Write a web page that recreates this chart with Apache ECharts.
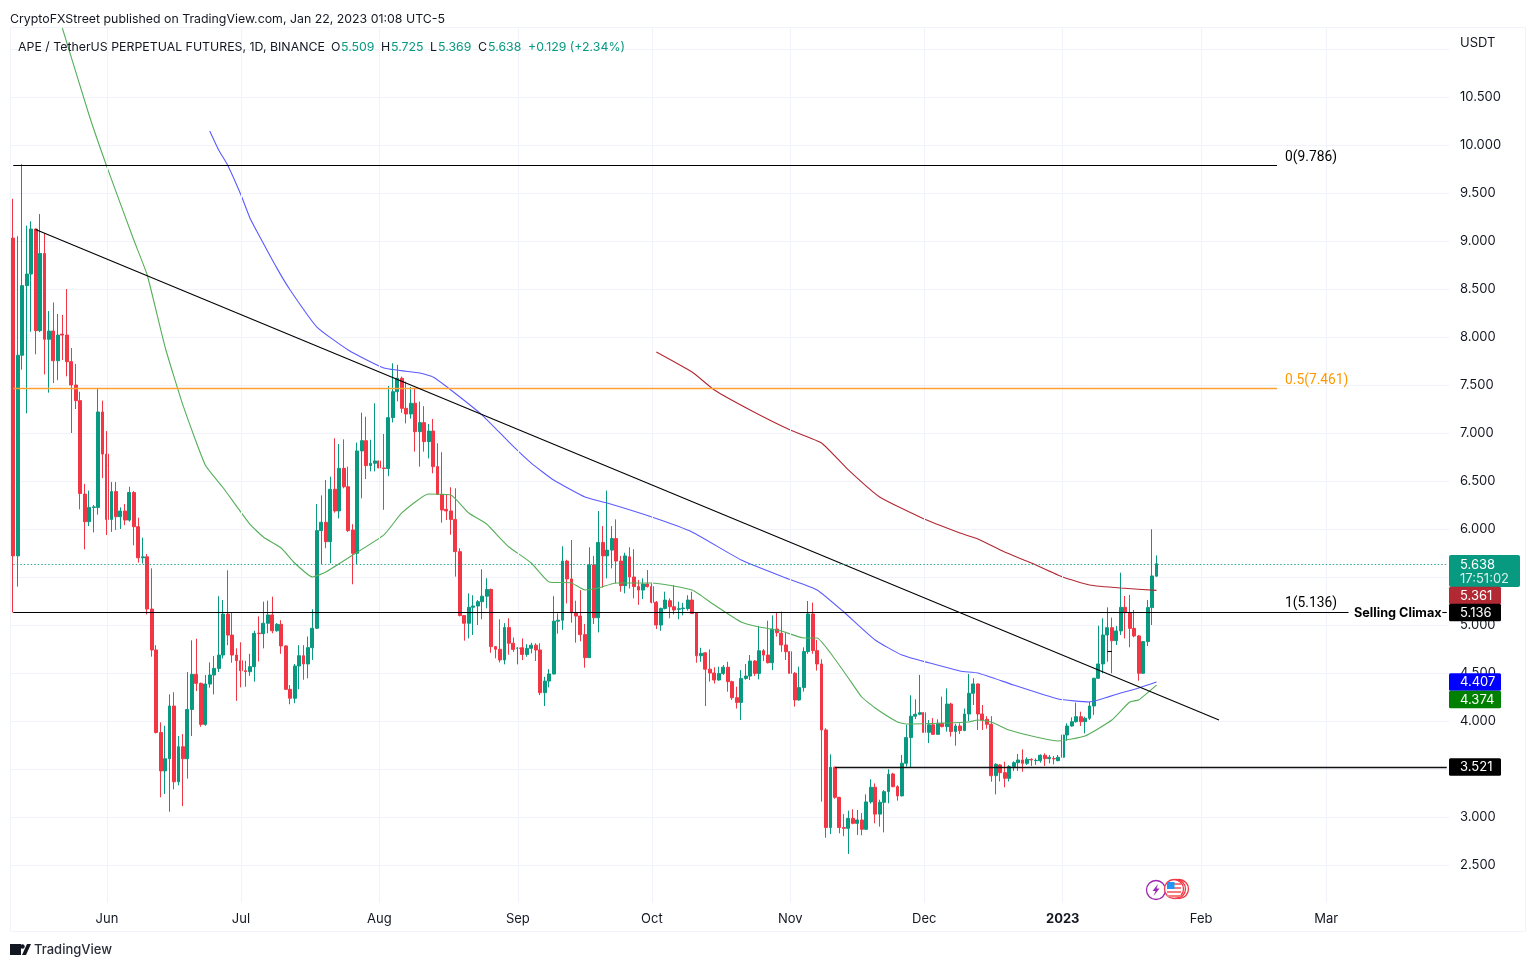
<!DOCTYPE html>
<html><head><meta charset="utf-8">
<style>html,body{margin:0;padding:0;background:#fff}#c{width:1536px;height:968px}</style>
<script src="https://cdn.jsdelivr.net/npm/echarts@6/dist/echarts.min.js"></script>
</head><body><div id="c"></div>
<script>
// open, close, low, high — one row per day from 2022-05-11
const ohlc = [
[9.03,5.72,5.13,9.44],[5.72,7.81,5.40,9.05],[7.81,8.535,7.66,9.80],[8.535,8.656,7.205,9.16],[8.656,9.125,8.055,9.205],
[9.125,8.066,7.82,9.13],[8.066,8.87,8.05,9.28],[8.87,7.976,7.61,9.08],[7.976,8.062,7.42,8.27],[8.062,7.753,7.52,8.36],
[7.753,8.02,7.55,8.24],[8.03,8.02,7.76,8.23],[8.02,7.743,7.59,8.50],[7.743,7.50,7.00,7.885],[7.50,7.337,7.25,7.72],
[7.337,6.37,6.205,7.43],[6.364,6.076,5.788,6.47],[6.076,6.225,6.03,6.40],[6.225,6.23,5.965,6.25],[6.225,7.219,6.15,7.47],
[7.219,6.78,6.53,7.337],[6.78,6.10,5.937,7.02],[6.10,6.39,5.97,6.49],[6.39,6.128,5.99,6.49],[6.128,6.187,6.0,6.225],
[6.187,6.093,6.04,6.26],[6.093,6.38,6.076,6.44],[6.38,6.024,5.83,6.395],[6.024,5.70,5.65,6.118],[5.70,5.71,5.64,5.91],
[5.71,5.166,5.11,5.74],[5.166,4.74,4.67,5.59],[4.74,3.88,3.87,4.79],[3.88,3.48,3.205,3.986],[3.48,3.607,3.24,3.95],
[3.607,4.156,3.055,4.277],[4.156,3.367,3.288,4.30],[3.367,3.732,3.33,3.843],[3.732,3.607,3.114,3.864],[3.607,4.12,3.40,4.51],
[4.12,4.486,3.843,4.84],[4.486,4.392,4.312,4.857],[4.392,3.965,3.94,4.40],[3.965,4.385,3.95,4.479],[4.385,4.479,4.347,4.61],
[4.479,4.548,4.277,4.677],[4.548,4.687,4.51,5.30],[4.687,5.114,4.652,5.26],[5.114,4.895,4.79,5.57],[4.895,4.687,4.607,5.13],
[4.687,4.628,4.21,4.757],[4.628,4.524,4.35,4.82],[4.524,4.514,4.357,4.628],[4.514,4.566,4.47,4.70],[4.566,4.913,4.41,4.94],
[4.915,4.91,4.62,5.09],[4.91,5.018,4.757,5.243],[5.018,5.105,4.914,5.254],[5.105,4.94,4.914,5.295],[4.94,5.007,4.93,5.02],
[5.007,4.782,4.70,5.05],[4.782,4.33,4.325,4.79],[4.33,4.237,4.174,4.375],[4.237,4.573,4.185,4.594],[4.573,4.68,4.33,4.79],
[4.68,4.594,4.43,4.79],[4.594,4.764,4.445,4.88],[4.764,4.966,4.636,5.164],[4.966,5.983,4.96,6.26],[5.983,6.07,5.636,6.35],
[6.07,5.868,5.80,6.51],[5.868,6.414,5.643,6.545],[6.414,6.188,6.17,6.945],[6.188,6.632,6.11,6.886],[6.632,6.44,6.424,6.934],
[6.44,5.983,5.97,6.65],[5.99,5.747,5.424,6.05],[5.747,6.813,5.636,6.9],[6.813,6.92,6.32,7.212],[6.92,6.66,6.52,7.17],
[6.66,6.685,6.60,6.93],[6.685,6.709,6.60,7.31],[6.709,6.636,6.46,7.275],[6.636,6.63,6.20,6.99],[6.63,7.16,6.55,7.49],
[7.16,7.43,7.11,7.726],[7.43,7.57,7.33,7.71],[7.57,7.257,7.21,7.587],[7.257,7.198,7.10,7.535],[7.198,7.31,7.15,7.48],
[7.31,7.014,6.806,7.466],[7.014,7.108,6.65,7.327],[7.108,6.91,6.806,7.28],[6.91,7.02,6.736,7.094],[7.02,6.65,6.58,7.146],
[6.65,6.36,6.355,6.893],[6.36,6.198,6.066,6.80],[6.205,6.188,6.094,6.355],[6.188,6.10,5.94,6.435],[6.10,5.764,5.504,6.424],
[5.764,5.098,5.09,5.80],[5.098,5.018,4.837,5.10],[5.018,5.185,4.86,5.33],[5.185,5.198,4.896,5.31],[5.198,5.243,5.0,5.26],
[5.243,5.30,5.06,5.58],[5.30,5.37,5.174,5.487],[5.37,4.775,4.71,5.38],[4.775,4.747,4.653,4.78],[4.747,4.636,4.61,5.06],
[4.636,4.973,4.59,5.02],[4.973,4.81,4.69,5.07],[4.81,4.746,4.72,4.87],[4.757,4.76,4.59,4.77],[4.763,4.694,4.635,4.86],
[4.694,4.757,4.67,4.80],[4.757,4.79,4.705,4.815],[4.79,4.74,4.625,4.81],[4.74,4.295,4.27,4.81],[4.295,4.416,4.156,4.46],
[4.416,4.49,4.35,4.54],[4.49,5.04,4.485,5.30],[5.04,5.05,4.91,5.12],[5.05,5.666,4.95,5.82],[5.666,5.48,5.225,5.68],
[5.48,5.128,5.024,5.885],[5.128,5.093,4.816,5.253],[5.093,4.90,4.83,5.364],[4.90,4.66,4.555,5.01],[4.66,5.625,4.655,5.81],
[5.625,5.076,5.01,5.72],[5.076,5.86,4.923,6.187],[5.86,5.72,5.39,6.03],[5.72,5.78,5.486,6.40],[5.78,5.90,5.59,6.03],
[5.90,5.666,5.434,6.10],[5.666,5.41,5.347,5.72],[5.41,5.72,5.33,5.753],[5.71,5.50,5.38,5.81],[5.50,5.40,5.277,5.79],
[5.40,5.364,5.21,5.47],[5.364,5.427,5.27,5.486],[5.427,5.40,5.39,5.573],[5.40,5.236,5.226,5.434],[5.236,5.0,4.958,5.25],
[5.0,5.173,4.94,5.18],[5.173,5.26,5.163,5.347],[5.253,5.19,5.07,5.277],[5.19,5.156,5.11,5.416],[5.163,5.17,5.06,5.243],
[5.17,5.177,5.10,5.23],[5.17,5.26,5.15,5.31],[5.26,5.12,5.115,5.347],[5.128,4.68,4.607,5.135],[4.68,4.705,4.617,4.763],
[4.71,4.54,4.156,4.715],[4.54,4.50,4.41,4.746],[4.50,4.427,4.39,4.56],[4.427,4.496,4.42,4.566],[4.496,4.56,4.48,4.583],
[4.56,4.41,4.305,4.617],[4.41,4.243,4.22,4.42],[4.243,4.194,4.13,4.357],[4.194,4.444,4.01,4.53],[4.444,4.468,4.43,4.593],
[4.468,4.625,4.427,4.687],[4.625,4.496,4.47,4.635],[4.496,4.732,4.434,4.99],[4.732,4.687,4.625,4.75],[4.687,4.607,4.60,5.045],
[4.607,4.958,4.53,5.10],[4.958,4.92,4.88,5.128],[4.914,4.792,4.72,5.14],[4.792,4.722,4.636,4.93],[4.722,4.497,4.445,4.77],
[4.497,4.219,4.15,4.51],[4.219,4.348,4.21,4.566],[4.348,4.723,4.306,4.768],[4.723,5.115,4.70,5.25],[5.115,4.733,4.70,5.233],
[4.733,4.594,4.525,4.844],[4.594,3.907,3.16,4.643],[3.907,2.89,2.785,3.924],[2.89,3.518,2.823,3.653],[3.518,3.205,3.19,3.525],
[3.205,2.89,2.83,3.21],[2.89,2.882,2.80,3.03],[2.882,2.986,2.615,3.066],[2.986,2.934,2.925,3.08],[2.934,2.969,2.813,3.073],
[2.969,2.872,2.81,3.04],[2.872,3.157,2.865,3.236],[3.157,3.31,3.14,3.393],[3.31,3.03,2.935,3.35],[3.03,3.153,2.90,3.18],
[3.153,3.264,2.84,3.28],[3.264,3.445,3.143,3.497],[3.448,3.316,3.31,3.46],[3.316,3.22,3.17,3.33],[3.22,3.56,3.215,3.646],
[3.56,3.827,3.525,3.96],[3.827,4.05,3.515,4.268],[4.05,4.07,4.02,4.226],[4.07,4.087,4.06,4.48],[4.087,3.882,3.865,4.09],
[3.882,3.96,3.77,4.01],[3.96,3.861,3.855,4.03],[3.861,3.976,3.855,4.018],[3.976,3.941,3.935,4.254],[3.941,4.177,3.89,4.34],
[4.177,3.89,3.837,4.19],[3.89,3.948,3.743,3.97],[3.948,3.90,3.865,3.976],[3.90,4.073,3.895,4.13],[4.073,4.289,4.0,4.49],
[4.289,4.386,4.167,4.445],[4.386,4.073,3.907,4.39],[4.073,4.01,3.907,4.167],[4.018,3.966,3.92,4.05],[3.966,3.43,3.368,4.05],
[3.431,3.549,3.236,3.56],[3.542,3.462,3.37,3.55],[3.462,3.403,3.31,3.577],[3.403,3.525,3.37,3.54],[3.525,3.566,3.48,3.58],
[3.566,3.594,3.48,3.657],[3.594,3.559,3.472,3.705],[3.559,3.601,3.542,3.622],[3.601,3.594,3.532,3.611],[3.587,3.59,3.542,3.611],
[3.587,3.643,3.566,3.653],[3.643,3.608,3.532,3.663],[3.608,3.622,3.559,3.646],[3.61,3.605,3.549,3.636],[3.587,3.622,3.58,3.646],
[3.622,3.854,3.611,4.07],[3.854,3.948,3.795,3.976],[3.948,3.993,3.941,4.038],[3.993,4.045,3.983,4.191],[4.045,3.993,3.948,4.097],
[3.993,4.028,3.872,4.045],[4.028,4.156,4.011,4.202],[4.156,4.445,4.063,4.45],[4.445,4.594,4.44,4.993],[4.594,4.896,4.497,5.07],
[4.896,4.972,4.618,5.184],[4.972,4.837,4.497,5.077],[4.837,4.938,4.792,4.99],[4.938,5.184,4.896,5.545],[5.184,5.129,4.861,5.302],
[5.129,4.965,4.768,5.313],[4.965,4.886,4.872,5.156],[4.886,4.497,4.42,4.896],[4.497,4.827,4.49,4.83],[4.827,5.181,4.781,5.261],
[5.181,5.511,5.0,5.997],[5.509,5.638,5.504,5.725]
];
// moving averages, read as [day index, price]
const maGreen = [[11,11.218],[17,10.31],[21,9.77],[27,9.01],[30,8.646],[34,7.896],[38,7.29],[43,6.667],[47,6.43],[53,6.05],[56,5.917],[60,5.802],[63,5.646],[67,5.50],[70,5.552],[75,5.698],[83,5.938],[87,6.167],[93,6.365],[98,6.354],[102,6.167],[106,6.052],[109,5.906],[111,5.813],[116,5.646],[120,5.448],[125,5.438],[128,5.365],[131,5.385],[135,5.438],[143,5.438],[152,5.365],[157,5.208],[163,5.031],[167,4.979],[172,4.938],[177,4.865],[180,4.865],[183,4.708],[187,4.448],[190,4.25],[193,4.135],[198,3.99],[200,3.969],[209,3.979],[214,3.99],[216,4.01],[219,3.99],[223,3.906],[229,3.833],[234,3.792],[240,3.844],[246,4.01],[250,4.198],[252,4.219],[256,4.374]];
const maBlue = [[44,10.146],[46,9.948],[48,9.792],[51,9.479],[53,9.24],[55,9.062],[59,8.72],[62,8.49],[68,8.104],[75,7.865],[83,7.677],[91,7.625],[94,7.583],[98,7.448],[105,7.187],[111,6.906],[116,6.687],[121,6.51],[128,6.333],[133,6.271],[143,6.125],[152,5.969],[163,5.677],[173,5.49],[180,5.365],[186,5.135],[193,4.844],[199,4.688],[212,4.521],[216,4.5],[224,4.375],[234,4.229],[241,4.198],[248,4.292],[252,4.344],[256,4.407]];
const maRed = [[144,7.844],[152,7.635],[157,7.448],[165,7.24],[174,7.031],[181,6.896],[187,6.615],[194,6.333],[203,6.125],[212,5.958],[216,5.896],[222,5.76],[228,5.646],[235,5.50],[241,5.417],[248,5.385],[256,5.361]];
const monthTicks = {'2022-06-01':'Jun','2022-07-01':'Jul','2022-08-01':'Aug','2022-09-01':'Sep','2022-10-01':'Oct','2022-11-01':'Nov','2022-12-01':'Dec','2023-01-01':'{b|2023}','2023-02-01':'Feb','2023-03-01':'Mar'};
const fibLevels = [9.786, 7.461, 5.136];
const fibLabels = ['0(9.786)', '0.5(7.461)', '1(5.136)'];
const supportLevel = 3.521;
const lastPrice = 5.638;
const trendLine = [[5, 9.12], [270, 4.01]];
const priceTagText = ['5.361', '5.136', '4.407', '4.374', '3.521'];
const priceTagColor = ['#b22833', '#000000', '#0000ff', '#008000', '#000000'];
const priceTagCentre = [595.5, 612.5, 682, 699.5, 767];
const dayCount = 322;

const FONT = 'Inter, "Liberation Sans", sans-serif';
const INK = '#131722', UP = '#089981', DOWN = '#f23645';
const cats = [];
for (let i = 0; i < dayCount; i++) {
  cats.push(new Date(Date.UTC(2022, 4, 11 + i)).toISOString().slice(0, 10));
}
const seg = (a, b, va, vb, style) => [{coord: [cats[a], va], lineStyle: style}, {coord: [cats[b], vb]}];
const black = {color: '#000', width: 1.1, type: 'solid', opacity: 1};
const lines = [
  seg(0, 283, fibLevels[0], fibLevels[0], black),
  seg(0, 283, fibLevels[1], fibLevels[1], {color: '#ffa030', width: 1.3, type: 'solid', opacity: 1}),
  seg(0, 299, fibLevels[2], fibLevels[2], black),
  seg(320, 321, fibLevels[2], fibLevels[2], black),
  seg(184, 321, supportLevel, supportLevel, {color: '#111', width: 1.4, type: 'solid', opacity: 1}),
  seg(trendLine[0][0], trendLine[1][0], trendLine[0][1], trendLine[1][1], black),
  seg(0, 321, lastPrice, lastPrice, {color: UP, width: 1, type: [1.5, 2], opacity: 0.85}),
  seg(245, 246, 4.73, 4.73, black)
];
Object.keys(monthTicks).forEach(d => {
  const i = cats.indexOf(d);
  lines.unshift(seg(i, i, 2.104, 11.22, {color: '#f0f3fa', width: 1, type: 'solid', opacity: 1}));
});
const ma = (data, color) => ({
  type: 'line', data: data.map(p => [cats[p[0]], p[1]]), showSymbol: false, silent: true, smooth: 0.15,
  lineStyle: {color, width: 1.1}, z: 3, animation: false
});

const chart = echarts.init(document.getElementById('c'), null, {width: 1536, height: 968, renderer: 'canvas'});
chart.setOption({
  animation: false,
  backgroundColor: '#ffffff',
  grid: {left: 11, right: 87, top: 1, height: 912},
  tooltip: {show: false},
  xAxis: {
    type: 'category', data: cats, boundaryGap: true,
    axisLine: {show: false}, axisTick: {show: false}, splitLine: {show: false},
    axisLabel: {
      interval: (i, v) => v in monthTicks, formatter: v => monthTicks[v] || '',
      color: INK, fontFamily: FONT, fontSize: 13, margin: 6, verticalAlign: 'middle',
      rich: {b: {fontWeight: 'bold', color: INK, fontFamily: FONT, fontSize: 13}}
    }
  },
  yAxis: {
    type: 'value', position: 'right', min: 2, max: 11.5, interval: 0.5, scale: true,
    axisLine: {show: false}, axisTick: {show: false},
    splitLine: {show: true, showMinLine: false, showMaxLine: false, lineStyle: {color: '#f0f3fa', width: 1}},
    axisLabel: {
      color: INK, fontFamily: FONT, fontSize: 13, margin: 11, align: 'left', padding: [3, 0, 0, 0],
      formatter: v => (v < 2.4 || v > 10.6) ? '' : v.toFixed(3)
    }
  },
  series: [
    {
      type: 'candlestick', data: ohlc, barWidth: 3.4, silent: true, z: 2,
      itemStyle: {color: UP, color0: DOWN, borderColor: UP, borderColor0: DOWN, borderWidth: 1},
      markLine: {silent: true, symbol: 'none', label: {show: false}, animation: false, precision: 4, data: lines}
    },
    ma(maGreen, '#55ae59'), ma(maBlue, '#5b5bff'), ma(maRed, '#b22833')
  ]
});

const py = v => chart.convertToPixel({yAxisIndex: 0}, v);
const px = i => chart.convertToPixel({xAxisIndex: 0}, cats[i]);
const txt = (x, y, text, opt) => ({
  type: 'text', x, y, z: 60,
  style: Object.assign({text, fill: INK, font: '13px ' + FONT, verticalAlign: 'middle'}, opt || {})
});
const hdr = '12.35px ' + FONT;
const fibFont = '13.8px Roboto, ' + FONT;
const g = [
  {type: 'rect', z: 1, shape: {x: 10.5, y: 27.5, width: 1515, height: 904}, style: {fill: 'none', stroke: '#f0f3fa', lineWidth: 1}},
  txt(10, 19, 'CryptoFXStreet published on TradingView.com, Jan 22, 2023 01:08 UTC-5', {font: hdr}),
  txt(18, 47, 'APE / TetherUS PERPETUAL FUTURES, 1D, BINANCE', {font: hdr}),
  txt(331, 47, 'O', {font: hdr}), txt(341, 47, '5.509', {font: hdr, fill: UP}),
  txt(381, 47, 'H', {font: hdr}), txt(391, 47, '5.725', {font: hdr, fill: UP}),
  txt(430, 47, 'L', {font: hdr}), txt(438, 47, '5.369', {font: hdr, fill: UP}),
  txt(478, 47, 'C', {font: hdr}), txt(488, 47, '5.638', {font: hdr, fill: UP}),
  txt(528, 47, '+0.129 (+2.34%)', {font: hdr, fill: UP}),
  txt(1460, 43, 'USDT'),
  txt(1354, py(fibLevels[2]) + 1, 'Selling Climax', {font: 'bold 12.7px ' + FONT, fill: '#000'}),
  txt(px(283) + 8, py(fibLevels[0]) - 8, fibLabels[0], {font: fibFont, fill: '#000'}),
  txt(px(283) + 8, py(fibLevels[1]) - 8, fibLabels[1], {font: fibFont, fill: '#ff9800'}),
  txt(px(283) + 8, py(fibLevels[2]) - 8, fibLabels[2], {font: fibFont, fill: '#000'}),
  // last price tag with countdown
  {type: 'rect', z: 55, shape: {x: 1449, y: 555, width: 71, height: 32, r: 2}, style: {fill: UP}},
  txt(1460, 565, '5.638', {fill: '#fff'}),
  txt(1460, 579, '17:51:02', {fill: '#d7f0ea'})
];
priceTagText.forEach((t, i) => {
  const y = priceTagCentre[i];
  g.push({type: 'rect', z: 55, shape: {x: 1449, y: y - 8.75, width: 52, height: 17.5, r: 1.5}, style: {fill: priceTagColor[i]}});
  g.push(txt(1460, y + 0.5, t, {fill: '#fff'}));
});
// TradingView logo
g.push({type: 'rect', z: 60, shape: {x: 10, y: 944, width: 11, height: 11}, style: {fill: '#131722'}});
g.push({type: 'circle', z: 60, shape: {cx: 22.5, cy: 946.5, r: 2.2}, style: {fill: '#131722'}});
g.push({type: 'polygon', z: 60, shape: {points: [[22, 955], [27, 944], [31, 944], [26, 955]]}, style: {fill: '#131722'}});
g.push(txt(34, 950, 'TradingView', {font: '500 13px ' + FONT, fill: '#2a2e39'}));
// event icons near the last bar
g.push({type: 'circle', z: 60, shape: {cx: 1156, cy: 890, r: 9.5}, style: {fill: '#fff', stroke: '#9c27b0', lineWidth: 1.3}});
g.push({type: 'polygon', z: 61, shape: {points: [[1158, 884], [1152.5, 891], [1155.5, 891], [1153.5, 896], [1159.5, 888.5], [1156.5, 888.5]]}, style: {fill: '#9c27b0'}});
g.push({type: 'circle', z: 60, shape: {cx: 1179, cy: 889, r: 9.5}, style: {fill: '#fff', stroke: '#f23645', lineWidth: 1.3}});
g.push({type: 'circle', z: 61, shape: {cx: 1176, cy: 889, r: 9.5}, style: {fill: '#fff', stroke: '#f23645', lineWidth: 1.3}});
g.push({type: 'circle', z: 62, shape: {cx: 1174, cy: 889, r: 9.5}, style: {fill: '#fff', stroke: '#f23645', lineWidth: 1.3}});
[[883, 2], [887, 2], [891, 2], [895, 2]].forEach(s => g.push({type: 'rect', z: 63, shape: {x: 1167, y: s[0], width: 14, height: s[1]}, style: {fill: '#f77c80'}}));
g.push({type: 'rect', z: 64, shape: {x: 1167, y: 882, width: 7.5, height: 7}, style: {fill: '#2196f3'}});
chart.setOption({graphic: {elements: g}});
</script></body></html>
